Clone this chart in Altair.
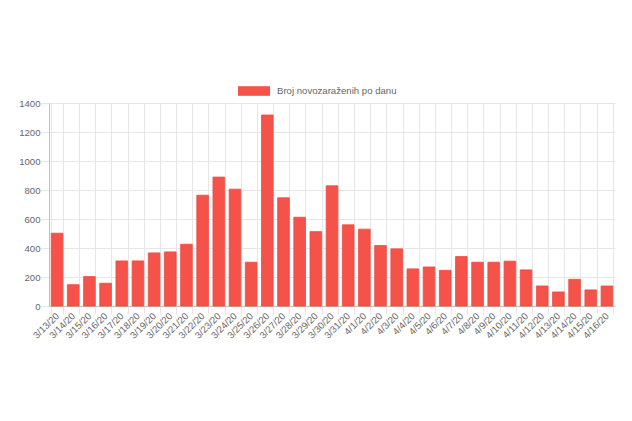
import altair as alt
import pandas as pd

dates = ["3/13/20", "3/14/20", "3/15/20", "3/16/20", "3/17/20", "3/18/20", "3/19/20",
         "3/20/20", "3/21/20", "3/22/20", "3/23/20", "3/24/20", "3/25/20", "3/26/20",
         "3/27/20", "3/28/20", "3/29/20", "3/30/20", "3/31/20", "4/1/20", "4/2/20",
         "4/3/20", "4/4/20", "4/5/20", "4/6/20", "4/7/20", "4/8/20", "4/9/20",
         "4/10/20", "4/11/20", "4/12/20", "4/13/20", "4/14/20", "4/15/20", "4/16/20"]
cases = [502, 147, 203, 157, 311, 311, 366, 373, 426, 764, 889, 806, 302, 1317,
         746, 612, 513, 829, 560, 530, 417, 394, 256, 269, 246, 341, 302, 302,
         309, 249, 138, 97, 184, 111, 138]
series_name = "Broj novozaraženih po danu"

df = pd.DataFrame({"date": dates, "cases": cases, "series": series_name})

FONT = "Liberation Sans"
FS = 9.6

chart = alt.Chart(df).mark_bar(
    color="#f5524a", stroke="#ee4a42", strokeWidth=0.8
).encode(
    x=alt.X("date:N", sort=dates, title=None,
            scale=alt.Scale(paddingInner=0.28, paddingOuter=0.14),
            axis=alt.Axis(tickBand="extent", grid=True, labelAngle=-45, labelAlign="right",
                          labelBaseline="middle", labelPadding=0, tickSize=8,
                          labelFont=FONT, labelFontSize=FS, labelColor="#666666",
                          gridColor="#e6e6e6", tickColor="#e6e6e6",
                          domainColor="#bfbfbf", labelOverlap=False)),
    y=alt.Y("cases:Q", title=None,
            scale=alt.Scale(domain=[0, 1400], nice=False),
            axis=alt.Axis(values=[0, 200, 400, 600, 800, 1000, 1200, 1400],
                          format="d", tickSize=8, labelPadding=1,
                          labelFont=FONT, labelFontSize=FS, labelColor="#666666",
                          gridColor="#e6e6e6", tickColor="#e6e6e6",
                          domainColor="#bfbfbf")),
    color=alt.Color("series:N", title=None,
                    scale=alt.Scale(range=["#f5524a"]),
                    legend=alt.Legend(orient="none", legendX=189, legendY=-28,
                                      symbolType="M-1,-0.3L1,-0.3L1,0.3L-1,0.3Z",
                                      symbolSize=1024, symbolStrokeWidth=0,
                                      labelFont=FONT, labelFontSize=FS,
                                      labelColor="#666666", labelOffset=7,
                                      padding=0)),
).properties(
    width=566, height=203,
    autosize=alt.AutoSizeParams(type="none"),
    padding={"left": 41, "top": 95, "right": 9, "bottom": 100},
).configure_view(strokeWidth=0)

chart.save("out.html", embed_options={"renderer": "svg", "actions": False})
